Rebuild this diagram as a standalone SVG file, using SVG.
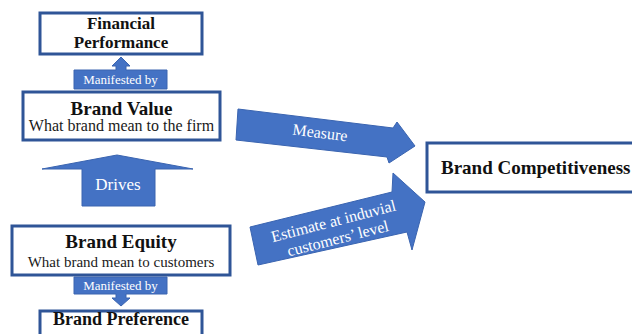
<svg xmlns="http://www.w3.org/2000/svg" width="632" height="334" viewBox="0 0 632 334">
  <style>
    .box { fill: #ffffff; stroke: #2f5597; stroke-width: 3; }
    .blk { fill: #4472c4; stroke: #3a64b0; stroke-width: 1; }
    text { font-family: "Liberation Serif", "Tinos", "Times New Roman", "DejaVu Serif", "Noto Serif", serif; }
    .head { font-weight: bold; fill: #111111; }
    .sub { fill: #1a1a1a; }
    .lbl { fill: #ffffff; }
  </style>
  <rect width="632" height="334" fill="#ffffff"/>

  <g id="connectors">
    <!-- Manifested by (up) -->
    <path class="blk" d="M74,89 V70 H116 V66 H112 L121,57 L130,66 H126 V70 H167 V89 Z"/>
    <text class="lbl" x="120.5" y="84" font-size="13" text-anchor="middle">Manifested by</text>
    <!-- Drives -->
    <path class="blk" d="M82,206 V169 H42 L117,155 L193,169 H155 V206 Z"/>
    <text class="lbl" x="118" y="190" font-size="17" text-anchor="middle">Drives</text>
    <!-- Manifested by (down) -->
    <path class="blk" d="M74,277 H167 V294 H126 V298 H130 L121,306 L112,298 H116 V294 H74 Z"/>
    <text class="lbl" x="120.5" y="290" font-size="13" text-anchor="middle">Manifested by</text>
    <!-- Measure -->
    <polygon class="blk" points="238,109 393,128 397,122 415,146 389,163 387,157 236,140"/>
    <text class="lbl" x="320" y="138" font-size="16" text-anchor="middle" transform="rotate(7 320 133)">Measure</text>
    <!-- Estimate -->
    <polygon class="blk" points="250,227 392,192 393,173 425,202 412,250 407,232 258,265"/>
    <g transform="rotate(-14.5 336 231)">
      <text class="lbl" x="336" y="226" font-size="16" text-anchor="middle">Estimate at induvial</text>
      <text class="lbl" x="336" y="244" font-size="16" text-anchor="middle">customers’ level</text>
    </g>
  </g>

  <g id="financial-performance">
    <rect class="box" x="40" y="13" width="162" height="41"/>
    <text class="head" x="121" y="29" font-size="17" text-anchor="middle">Financial</text>
    <text class="head" x="121" y="48" font-size="17" text-anchor="middle">Performance</text>
  </g>

  <g id="brand-value">
    <rect class="box" x="23" y="92" width="197" height="48"/>
    <text class="head" x="121.5" y="115" font-size="19" text-anchor="middle">Brand Value</text>
    <text class="sub" x="121.5" y="131" font-size="16" text-anchor="middle">What brand mean to the firm</text>
  </g>

  <g id="brand-equity">
    <rect class="box" x="12" y="226" width="218" height="49"/>
    <text class="head" x="121" y="248" font-size="19" text-anchor="middle">Brand Equity</text>
    <text class="sub" x="121" y="267" font-size="15" text-anchor="middle">What brand mean to customers</text>
  </g>

  <g id="brand-preference">
    <rect class="box" x="40" y="311" width="162" height="30"/>
    <text class="head" x="121" y="325" font-size="18" text-anchor="middle">Brand Preference</text>
  </g>

  <g id="brand-competitiveness">
    <rect class="box" x="427" y="143" width="215" height="49"/>
    <text class="head" x="441" y="174" font-size="19">Brand Competitiveness</text>
  </g>
</svg>
